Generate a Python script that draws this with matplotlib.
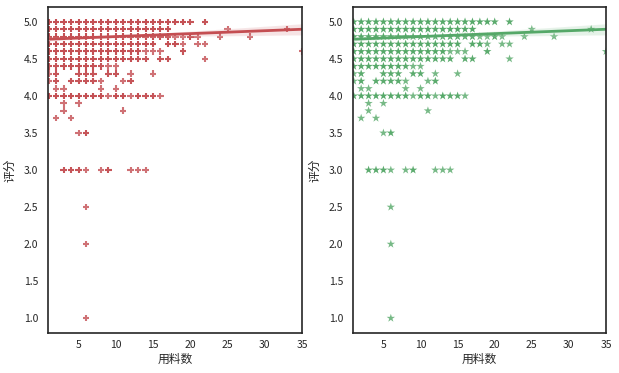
import numpy as np
import matplotlib
matplotlib.use("Agg")
import matplotlib.pyplot as plt
from matplotlib.colors import to_rgb
import seaborn as sns

# ratings (y) and, for each rating, the ingredient counts (x) seen and how many recipes fall on each point
ratings = [5.0, 4.9, 4.8, 4.7, 4.6, 4.5, 4.4, 4.3, 4.2, 4.1, 4.0, 3.9, 3.8, 3.7, 3.5, 3.0, 2.5, 2.0, 1.0]
x_values = [
    [1, 2, 3, 4, 5, 6, 7, 8, 9, 10, 11, 12, 13, 14, 15, 16, 17, 18, 19, 20, 22],
    [1, 2, 3, 4, 5, 6, 7, 8, 9, 10, 11, 12, 13, 14, 15, 16, 17, 25, 33],
    [1, 2, 3, 4, 5, 6, 7, 8, 9, 10, 11, 12, 13, 14, 15, 16, 17, 18, 19, 20, 21, 24, 28],
    [1, 2, 3, 4, 5, 6, 7, 8, 9, 10, 11, 12, 13, 14, 15, 17, 18, 19, 21, 22],
    [1, 2, 3, 4, 5, 6, 7, 8, 9, 10, 11, 12, 13, 14, 15, 16, 19, 35],
    [1, 2, 3, 4, 5, 6, 7, 8, 9, 10, 11, 12, 13, 14, 16, 17, 22],
    [1, 2, 3, 4, 5, 6, 7, 8, 9, 10],
    [1, 2, 5, 6, 7, 9, 10, 12, 15],
    [1, 2, 4, 5, 6, 7, 8, 11, 12],
    [2, 3, 8, 10],
    [1, 2, 3, 4, 5, 6, 7, 8, 9, 10, 11, 12, 13, 14, 15, 16],
    [3, 5],
    [3, 11],
    [2, 4],
    [5, 6],
    [3, 4, 5, 6, 8, 9, 12, 13, 14],
    [6],
    [6],
    [6],
]
counts = [
    [18, 34, 48, 60, 74, 80, 80, 72, 62, 54, 46, 38, 30, 22, 15, 10, 6, 4, 3, 2, 2],
    [4, 8, 14, 20, 24, 28, 28, 24, 22, 20, 16, 12, 10, 8, 6, 4, 3, 1, 1],
    [9, 18, 30, 42, 54, 60, 60, 54, 48, 42, 36, 30, 24, 18, 14, 10, 6, 1, 1, 3, 1, 1, 1],
    [4, 10, 16, 22, 26, 28, 28, 24, 22, 20, 16, 12, 10, 8, 6, 3, 3, 1, 1, 1],
    [3, 6, 9, 12, 14, 15, 15, 14, 12, 10, 9, 6, 5, 1, 1, 1, 2, 1],
    [2, 3, 5, 6, 7, 8, 8, 7, 6, 5, 4, 3, 2, 2, 2, 2, 1],
    [2, 2, 3, 4, 4, 4, 3, 2, 1, 1],
    [1, 2, 2, 2, 2, 2, 2, 1, 1],
    [1, 2, 2, 2, 2, 2, 1, 1, 2],
    [1, 1, 1, 1],
    [2, 3, 4, 5, 5, 7, 7, 6, 1, 5, 4, 1, 3, 2, 2, 1],
    [1, 1],
    [1, 1],
    [1, 1],
    [1, 2],
    [2, 2, 2, 1, 1, 2, 1, 1, 1],
    [1],
    [1],
    [1],
]

# full data (every recipe) for the regression, unique points for the scatter
xs, ys = [], []
ux, uy, un = [], [], []
for r, xrow, nrow in zip(ratings, x_values, counts):
    for x, n in zip(xrow, nrow):
        xs += [x] * n
        ys += [r] * n
        ux.append(x)
        uy.append(r)
        un.append(n)
xs = np.array(xs, dtype=float)
ys = np.array(ys, dtype=float)
un = np.array(un)

sns.set_style("white")
plt.rcParams["font.family"] = ["Noto Sans CJK SC", "DejaVu Sans"]

fig = plt.figure(figsize=(6.19, 3.73), dpi=100)
ax1 = fig.add_axes([48 / 619, 40 / 373, 254 / 619, 326 / 373])
ax2 = fig.add_axes([353 / 619, 40 / 373, 253 / 619, 326 / 373])

red = "#C44E52"
green = "#55A868"


def point_colors(c):
    rgb = to_rgb(c)
    # stacked semi-transparent markers (alpha .8 each) look darker
    alphas = 1 - 0.2 ** np.minimum(un, 3)
    return [(*rgb, a) for a in alphas]


ax1.scatter(ux, uy, marker="+", s=22, linewidths=1.5, c=point_colors(red))
ax2.scatter(ux, uy, marker="*", s=40, linewidths=0, c=point_colors(green))
sns.regplot(x=xs, y=ys, ax=ax1, color=red, scatter=False, seed=1,
            line_kws=dict(linewidth=2))
sns.regplot(x=xs, y=ys, ax=ax2, color=green, scatter=False, seed=1,
            line_kws=dict(linewidth=2))

for ax in (ax1, ax2):
    ax.set_xlim(0.9, 35)
    ax.set_ylim(0.8, 5.2)
    ax.set_xticks([5, 10, 15, 20, 25, 30, 35])
    ax.set_yticks([1.0, 1.5, 2.0, 2.5, 3.0, 3.5, 4.0, 4.5, 5.0])
    ax.tick_params(axis="both", length=0, labelsize=7.5, colors="#262626")
    ax.tick_params(axis="y", pad=7)
    ax.tick_params(axis="x", pad=5)
    ax.set_xlabel("用料数", fontsize=8.5, color="#262626", labelpad=2)
    ax.set_ylabel("评分", fontsize=8.5, color="#262626", labelpad=5)
    for sp in ax.spines.values():
        sp.set_color("#262626")
        sp.set_linewidth(1.2)

fig.savefig("out.png", dpi=100)
